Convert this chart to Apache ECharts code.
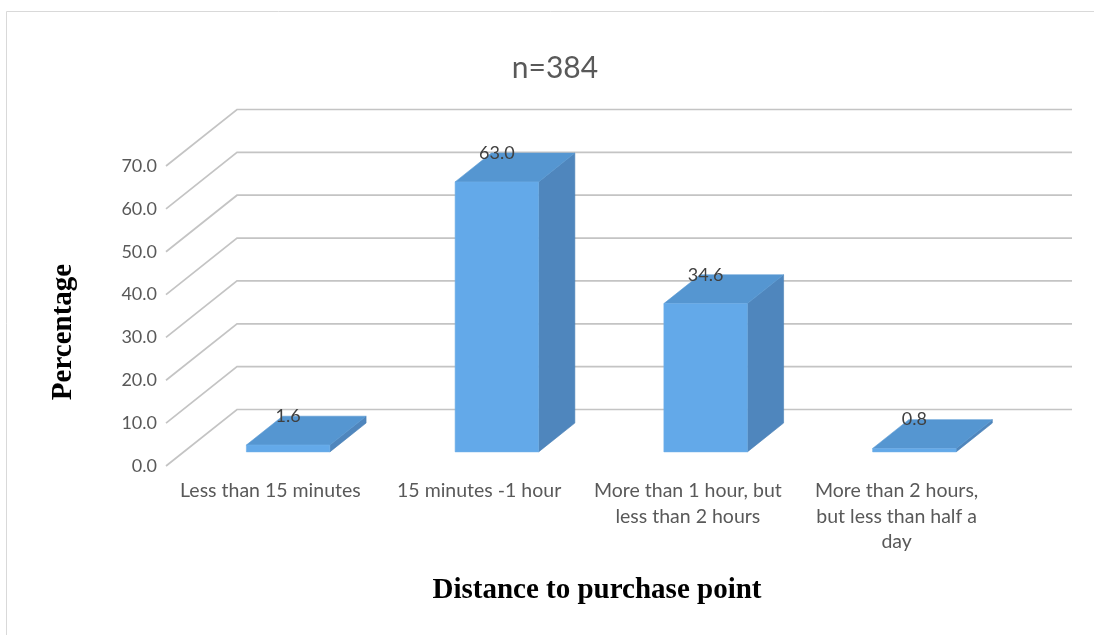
<!DOCTYPE html>
<html>
<head>
<meta charset="utf-8">
<title>Distance to purchase point</title>
<script src="https://cdn.jsdelivr.net/npm/echarts@6/dist/echarts.min.js"></script>
<style>
  html, body { margin: 0; padding: 0; background: #ffffff; }
  #chart { width: 1094px; height: 635px; }
</style>
</head>
<body>
<div id="chart"></div>
<script>
// Share of respondents by distance to the nearest purchase point (n=384)
const categories = [
  'Less than 15 minutes',
  '15 minutes -1 hour',
  'More than 1 hour, but\nless than 2 hours',
  'More than 2 hours,\nbut less than half a\nday'
];
const percentages = [1.6, 63.0, 34.6, 0.8];
const yTicks = [0, 10, 20, 30, 40, 50, 60, 70];

// Pseudo-3D look: offset from the front plane to the back wall (pixels)
const DEPTH_X = 71;
const DEPTH_Y = -56.5;
// Bar box position inside the depth (fractions of the full depth)
const BAR_FRONT = 0.25;
const BAR_BACK = 0.76;
const BAR_WIDTH = 0.4; // fraction of the category band

const FACE_FRONT = '#63A9E9';
const FACE_TOP = '#5596D1';
const FACE_SIDE = '#4F86BD';
const GRID_COLOR = '#C4C4C4';
const TEXT_COLOR = '#595959';

const chart = echarts.init(document.getElementById('chart'), null, { renderer: 'canvas' });

function renderGridLine(params, api) {
  const v = api.value(0);
  const band = api.size([1, 0])[0];
  const left = api.coord([0, v])[0] - band / 2;
  const right = api.coord([categories.length - 1, v])[0] + band / 2;
  const y = api.coord([0, v])[1];
  return {
    type: 'polyline',
    shape: {
      points: [
        [left, y],
        [left + DEPTH_X, y + DEPTH_Y],
        [right + DEPTH_X, y + DEPTH_Y]
      ]
    },
    style: { stroke: GRID_COLOR, lineWidth: 1.7, fill: null },
    silent: true
  };
}

function renderBar(params, api) {
  const idx = api.value(0);
  const val = api.value(1);
  const band = api.size([1, 0])[0];
  const base = api.coord([idx, 0]);
  const top = api.coord([idx, val]);
  const w = band * BAR_WIDTH;
  const fx = DEPTH_X * BAR_FRONT, fy = DEPTH_Y * BAR_FRONT;
  const bx = DEPTH_X * (BAR_BACK - BAR_FRONT), by = DEPTH_Y * (BAR_BACK - BAR_FRONT);
  const x0 = base[0] - w / 2 + fx;
  const x1 = x0 + w;
  const yTop = top[1] + fy;
  const yBot = base[1] + fy;
  return {
    type: 'group',
    children: [
      {
        type: 'polygon',
        shape: { points: [[x1, yTop], [x1 + bx, yTop + by], [x1 + bx, yBot + by], [x1, yBot]] },
        style: { fill: FACE_SIDE, stroke: '#4A80B6', lineWidth: 0.6 }
      },
      {
        type: 'polygon',
        shape: { points: [[x0, yTop], [x1, yTop], [x1 + bx, yTop + by], [x0 + bx, yTop + by]] },
        style: { fill: FACE_TOP, stroke: '#5A9AD4', lineWidth: 0.6 }
      },
      {
        type: 'rect',
        shape: { x: x0, y: yTop, width: w, height: yBot - yTop },
        style: { fill: FACE_FRONT, stroke: '#6EAEE8', lineWidth: 0.6 }
      },
      {
        type: 'text',
        style: {
          x: x0 + w / 2,
          y: yTop + by,
          text: val.toFixed(1),
          align: 'center',
          verticalAlign: 'middle',
          fill: '#404040',
          font: '18px Lato'
        }
      }
    ]
  };
}

chart.setOption({
  animation: false,
  backgroundColor: '#ffffff',
  grid: { left: 166, right: 93, top: 166, bottom: 169, containLabel: false },
  xAxis: {
    type: 'category',
    data: categories,
    axisLine: { show: false },
    axisTick: { show: false },
    splitLine: { show: false },
    axisLabel: {
      interval: 0,
      margin: 12,
      color: TEXT_COLOR,
      fontFamily: 'Lato',
      fontSize: 19.5,
      lineHeight: 25.5,
      align: 'center'
    }
  },
  yAxis: {
    type: 'value',
    min: 0,
    max: 70,
    interval: 10,
    axisLine: { show: false },
    axisTick: { show: false },
    splitLine: { show: false },
    axisLabel: {
      margin: 9,
      color: TEXT_COLOR,
      fontFamily: 'Lato',
      fontSize: 18,
      formatter: v => v.toFixed(1)
    }
  },
  graphic: [
    {
      type: 'rect',
      shape: { x: 6.5, y: 11.5, width: 1200, height: 700 },
      style: { fill: null, stroke: '#D9D9D9', lineWidth: 1 },
      silent: true,
      z: -10
    },
    {
      type: 'text',
      x: 555,
      y: 68,
      style: {
        text: 'n=384',
        align: 'center',
        verticalAlign: 'middle',
        fill: TEXT_COLOR,
        font: '30px Lato'
      }
    },
    {
      type: 'text',
      x: 64,
      y: 332,
      rotation: Math.PI / 2,
      style: {
        text: 'Percentage',
        align: 'center',
        verticalAlign: 'middle',
        fill: '#000000',
        font: 'bold 29px "Liberation Serif"'
      }
    },
    {
      type: 'text',
      x: 597,
      y: 591,
      style: {
        text: 'Distance to purchase point',
        align: 'center',
        verticalAlign: 'middle',
        fill: '#000000',
        font: 'bold 29px "Liberation Serif"'
      }
    }
  ],
  series: [
    {
      type: 'custom',
      name: 'gridlines',
      silent: true,
      clip: false,
      z: 1,
      data: yTicks.map(v => [v]),
      encode: { y: 0 },
      renderItem: renderGridLine
    },
    {
      type: 'custom',
      name: 'Percentage',
      clip: false,
      z: 2,
      data: percentages.map((v, i) => [i, v]),
      encode: { x: 0, y: 1 },
      renderItem: renderBar
    }
  ]
});
</script>
</body>
</html>
